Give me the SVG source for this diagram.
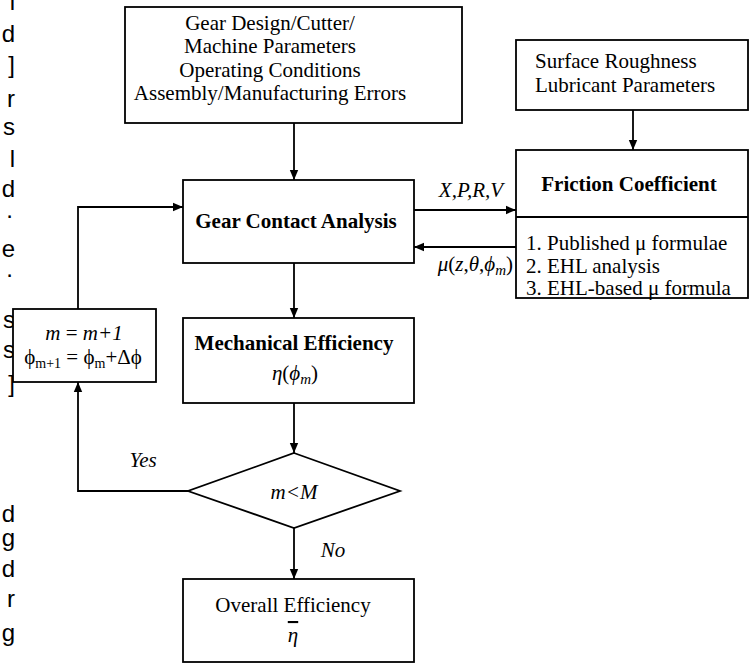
<svg xmlns="http://www.w3.org/2000/svg" width="755" height="664" viewBox="0 0 755 664">
<style>
.box{fill:#fff;stroke:#000;stroke-width:1.8}
.ln{fill:none;stroke:#000;stroke-width:1.8}
.t{font-family:"Liberation Serif","Times New Roman",serif;font-size:21px;fill:#000}
.b{font-weight:bold}
.i{font-style:italic}
.c{text-anchor:middle}
.e{text-anchor:end}
.frag{font-family:"Liberation Sans",Arial,sans-serif;font-size:24px;text-anchor:end;fill:#000}
</style>
<defs>
<marker id="ah" viewBox="0 0 10 10" refX="10" refY="5" markerWidth="10" markerHeight="10" markerUnits="userSpaceOnUse" orient="auto"><path d="M0,0.8 L10,5 L0,9.2 z" fill="#000"/></marker>
</defs>
<rect width="755" height="664" fill="#fff"/>
<g id="margin-text">
<text class="frag" x="15" y="10">l</text>
<text class="frag" x="15" y="42">d</text>
<text class="frag" x="15" y="73">]</text>
<text class="frag" x="15" y="107">r</text>
<text class="frag" x="15" y="135">s</text>
<text class="frag" x="15" y="167">l</text>
<text class="frag" x="15" y="197">d</text>
<text class="frag" x="13" y="218">.</text>
<text class="frag" x="15" y="257">e</text>
<text class="frag" x="13" y="277" fill="#bbb">.</text>
<text class="frag" x="15" y="328">s</text>
<text class="frag" x="15" y="358">s</text>
<text class="frag" x="15" y="392">]</text>
<text class="frag" x="15" y="522">d</text>
<text class="frag" x="15" y="546">g</text>
<text class="frag" x="15" y="577">d</text>
<text class="frag" x="15" y="607">r</text>
<text class="frag" x="15" y="641">g</text>
</g>
<g id="connectors">
<path class="ln" d="M294,123 V180" marker-end="url(#ah)"/>
<path class="ln" d="M633,110 V150" marker-end="url(#ah)"/>
<path class="ln" d="M414,210 H516" marker-end="url(#ah)"/>
<path class="ln" d="M516,247 H414" marker-end="url(#ah)"/>
<path class="ln" d="M294,263 V318" marker-end="url(#ah)"/>
<path class="ln" d="M294,403 V453" marker-end="url(#ah)"/>
<path class="ln" d="M294,528 V579" marker-end="url(#ah)"/>
<path class="ln" d="M188,491 H78 V382" marker-end="url(#ah)"/>
<path class="ln" d="M78,309 V207 H183" marker-end="url(#ah)"/>
<text class="t i c" x="471" y="197">X,P,R,V</text>
<text class="t e" x="513" y="271"><tspan class="i">μ</tspan>(<tspan class="i">z</tspan>,<tspan class="i">θ</tspan>,<tspan class="i">ϕ</tspan><tspan class="i" font-size="15" dy="4">m</tspan><tspan dy="-4">)</tspan></text>
<text class="t i c" x="143" y="467">Yes</text>
<text class="t i c" x="333" y="557">No</text>
</g>
<g id="inputs">
<rect class="box" x="125" y="7" width="337" height="116"/>
<text class="t c" x="270" y="30">Gear Design/Cutter/</text>
<text class="t c" x="270" y="53">Machine Parameters</text>
<text class="t c" x="270" y="77">Operating Conditions</text>
<text class="t c" x="270" y="100">Assembly/Manufacturing Errors</text>
</g>
<g id="surface">
<rect class="box" x="516" y="40" width="232" height="70"/>
<text class="t" x="535" y="68">Surface Roughness</text>
<text class="t" x="535" y="92">Lubricant Parameters</text>
</g>
<g id="friction">
<rect class="box" x="516" y="150" width="232" height="148"/>
<line class="ln" x1="516" y1="217" x2="748" y2="217"/>
<text class="t b c" x="629" y="191">Friction Coefficient</text>
<text class="t" x="526" y="250">1. Published μ formulae</text>
<text class="t" x="526" y="273">2. EHL analysis</text>
<text class="t" x="526" y="295">3. EHL-based μ formula</text>
</g>
<g id="gear-contact">
<rect class="box" x="183" y="180" width="231" height="83"/>
<text class="t b c" x="296" y="228">Gear Contact Analysis</text>
</g>
<g id="update">
<rect class="box" x="13" y="309" width="143" height="73"/>
<text class="t c" x="84" y="340"><tspan class="i">m</tspan> = <tspan class="i">m+1</tspan></text>
<text class="t c" x="83" y="364">ϕ<tspan font-size="14" dy="4">m+1</tspan><tspan dy="-4"> = ϕ</tspan><tspan font-size="14" dy="4">m</tspan><tspan dy="-4">+Δϕ</tspan></text>
</g>
<g id="mechanical">
<rect class="box" x="183" y="318" width="231" height="85"/>
<text class="t b c" x="294" y="350">Mechanical Efficiency</text>
<text class="t c" x="295" y="380"><tspan class="i">η</tspan>(<tspan class="i">ϕ</tspan><tspan class="i" font-size="15" dy="4">m</tspan><tspan dy="-4">)</tspan></text>
</g>
<g id="decision">
<path class="box" d="M294,453 L400,491 L294,528 L188,491 Z"/>
<text class="t i c" x="294" y="499">m&lt;M</text>
</g>
<g id="overall">
<rect class="box" x="183" y="579" width="231" height="83"/>
<text class="t c" x="293" y="612">Overall Efficiency</text>
<text class="t i c" x="293" y="642" style="text-decoration:overline">η</text>
</g>
</svg>
